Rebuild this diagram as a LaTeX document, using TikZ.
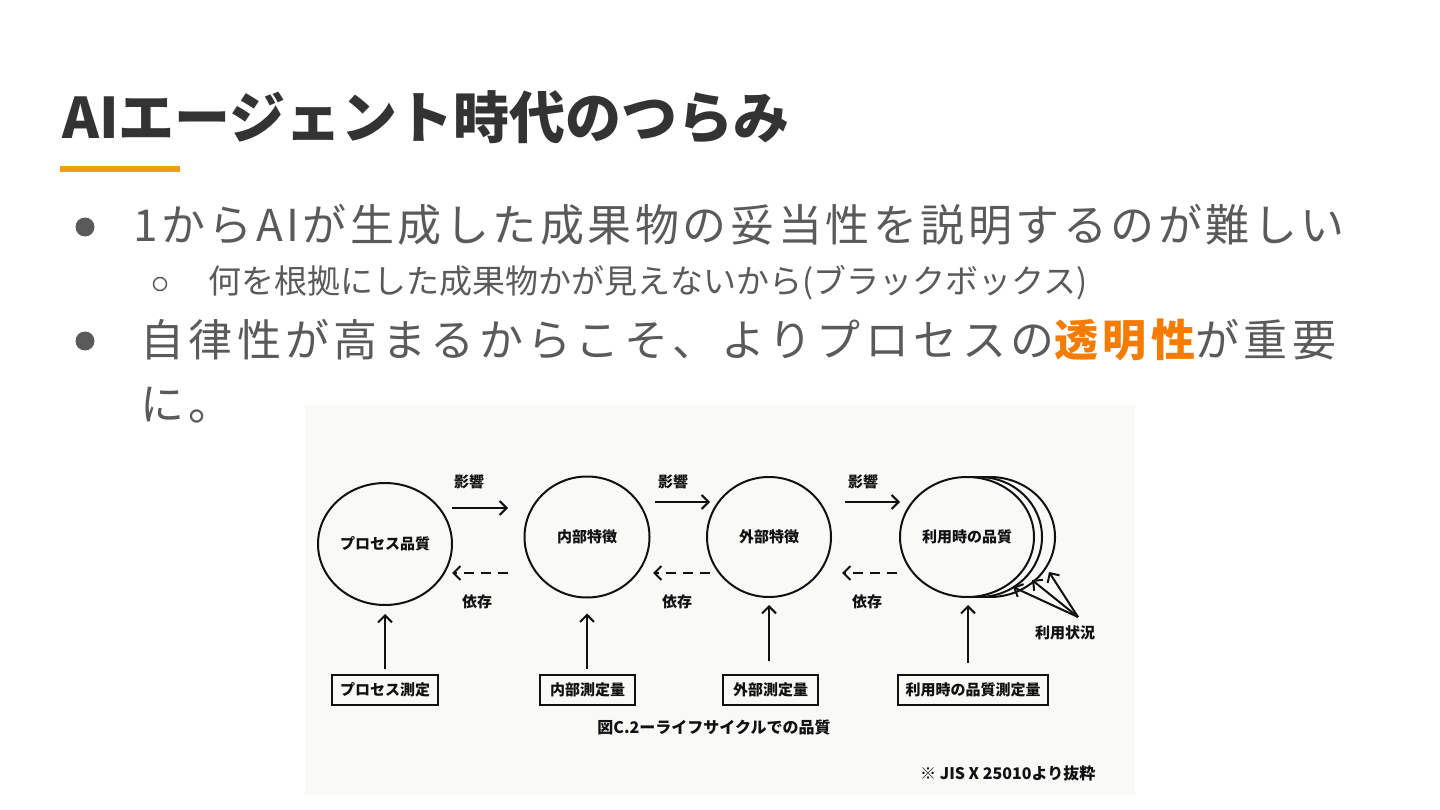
\documentclass[tikz,border=0pt]{standalone}
\usepackage{fontspec}
\setmainfont{Noto Sans CJK JP}
\newfontfamily\jpwide[LetterSpace=8]{Noto Sans CJK JP}
\newfontfamily\jpwider[LetterSpace=10]{Noto Sans CJK JP}
\usetikzlibrary{arrows.meta,shapes.geometric}
\definecolor{titlecol}{HTML}{333333}
\definecolor{bodycol}{HTML}{5A5A5A}
\definecolor{accent}{HTML}{F39C12}
\definecolor{hilite}{HTML}{F57C00}
\definecolor{panel}{HTML}{F9F9F7}
\definecolor{ink}{HTML}{111111}
\tikzset{
  txt/.style={inner sep=0pt, anchor=west},
  dlabel/.style={inner sep=0pt, text=ink, font=\fontsize{15}{18}\selectfont\bfseries},
  bubble/.style={draw=ink, line width=2pt, ellipse, inner sep=0pt, fill=panel, dlabel},
  mbox/.style={draw=ink, line width=2pt, rectangle, minimum height=30pt, inner sep=0pt, fill=panel, dlabel},
  arr/.style={draw=ink, line width=2pt, -{Straight Barb[length=7pt,width=14pt]}},
  darr/.style={arr, dash pattern=on 10pt off 7pt}
}
\begin{document}
\begin{tikzpicture}[x=1pt,y=-1pt]
\useasboundingbox[fill=white] (0,0) rectangle (1440,810);
% title
\node[txt, text=titlecol, font=\fontsize{56}{62}\selectfont\bfseries] (title) at (62,117) {AIエージェント時代のつらみ};
\fill[accent] (60,166) rectangle (180,172);
% bullets
\fill[bodycol] (85,227) circle[radius=9.5];
\node[txt, text=bodycol, font=\fontsize{44}{52}\selectfont\jpwide] (l1) at (133,225) {1からAIが生成した成果物の妥当性を説明するのが難しい};
\draw[bodycol, line width=1.5pt] (160,284) circle[radius=6.5];
\node[txt, text=bodycol, font=\fontsize{33}{39}\selectfont] (l2) at (208,283) {何を根拠にした成果物かが見えないから(ブラックボックス)};
\fill[bodycol] (85,341) circle[radius=9.5];
\node[txt, text=bodycol, font=\fontsize{44}{52}\selectfont\jpwider] (l3) at (140,340) {自律性が高まるからこそ、よりプロセスの\textcolor{hilite}{\bfseries 透明性}が重要};
\node[txt, text=bodycol, font=\fontsize{44}{52}\selectfont\jpwider] (l4) at (140,405) {に。};
% figure panel
\fill[panel] (305,405) rectangle (1135,795);
% stacked back ellipses for usage quality
\draw[draw=ink, line width=2pt, fill=panel] (990,537) ellipse[x radius=65, y radius=60];
\draw[draw=ink, line width=2pt, fill=panel] (979,537) ellipse[x radius=63, y radius=60];
% circles
\node[bubble, minimum width=134pt, minimum height=122pt] (c1) at (385,544) {プロセス品質};
\node[bubble, minimum width=125pt, minimum height=121pt] (c2) at (587,537) {内部特徴};
\node[bubble, minimum width=124pt, minimum height=120pt] (c3) at (769,537) {外部特徴};
\node[bubble, minimum width=134pt, minimum height=120pt] (c4) at (967,537) {利用時の品質};
% influence arrows
\coordinate (i1s) at (452,508); \coordinate (i1e) at (508,508);
\coordinate (i2s) at (655,502); \coordinate (i2e) at (710,502);
\coordinate (i3s) at (845,502); \coordinate (i3e) at (900,502);
\draw[arr] (i1s) -- (i1e);
\draw[arr] (i2s) -- (i2e);
\draw[arr] (i3s) -- (i3e);
\node[dlabel] (e1) at (469,482) {影響};
\node[dlabel] (e2) at (673,482) {影響};
\node[dlabel] (e3) at (863,482) {影響};
% dependency arrows
\coordinate (d1s) at (508,573); \coordinate (d1e) at (452,573);
\coordinate (d2s) at (710,573); \coordinate (d2e) at (653,573);
\coordinate (d3s) at (897,573); \coordinate (d3e) at (842,573);
\draw[darr] (d1s) -- (d1e);
\draw[darr] (d2s) -- (d2e);
\draw[darr] (d3s) -- (d3e);
\node[dlabel] (f1) at (477,602) {依存};
\node[dlabel] (f2) at (677,602) {依存};
\node[dlabel] (f3) at (867,602) {依存};
% measure boxes
\node[mbox, minimum width=106pt] (b1) at (385,690) {プロセス測定};
\node[mbox, minimum width=95pt] (b2) at (587.5,690) {内部測定量};
\node[mbox, minimum width=95pt] (b3) at (770.5,690) {外部測定量};
\node[mbox, minimum width=150pt] (b4) at (973,690) {利用時の品質測定量};
\draw[arr, shorten <=5pt, shorten >=8pt] (b1.north) -- (c1.south);
\draw[arr, shorten <=5pt, shorten >=15pt] (c2.south |- b2.north) -- (c2.south);
\draw[arr, shorten <=13pt, shorten >=7pt] (c3.south |- b3.north) -- (c3.south);
\draw[arr, shorten <=12pt, shorten >=8pt] (968,675) -- (968,597);
% usage context
\node[dlabel] (us) at (1065,633) {利用状況};
\coordinate (u0) at (1078,617);
\coordinate (ua) at (1013,587);
\coordinate (ub) at (1032,580);
\coordinate (uc) at (1049,572);
\draw[arr] (u0) -- (ua);
\draw[arr] (u0) -- (ub);
\draw[arr] (u0) -- (uc);
% caption and note
\node[dlabel, font=\fontsize{16}{19}\selectfont\bfseries] (cap) at (714,727) {図C.2ーライフサイクルでの品質};
\node[dlabel, anchor=west, font=\fontsize{16}{19}\selectfont\bfseries] (note) at (920,773) {※ JIS X 25010より抜粋};
\end{tikzpicture}
\end{document}
